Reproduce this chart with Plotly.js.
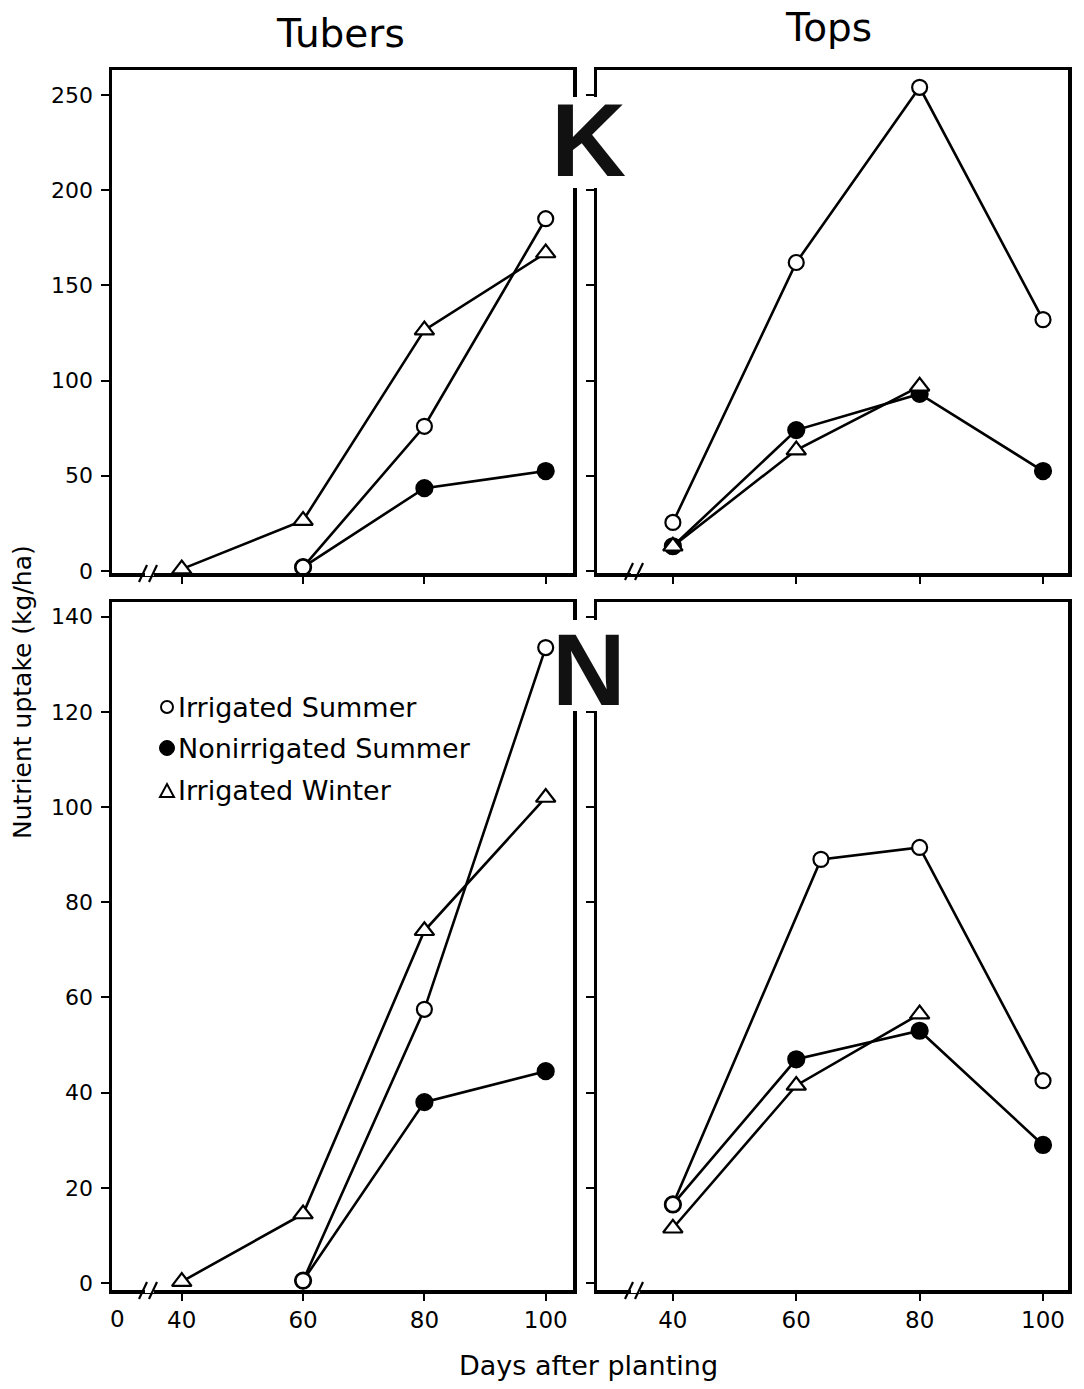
<!DOCTYPE html>
<html>
<head>
<meta charset="utf-8">
<script src="https://cdn.plot.ly/plotly-3.0.1.min.js"></script>
<style>html,body{margin:0;padding:0;background:#fff;}#chart{width:1084px;height:1389px;}</style>
</head>
<body>
<div id="chart"></div>
<script>
// ---------- DATA ----------
const seriesNames = ["Irrigated Summer", "Nonirrigated Summer", "Irrigated Winter"];
const panelTitles = ["Tubers", "Tops"];
const nutrients = ["K", "N"];

// K uptake, tubers (kg/ha)
const kTubIrrSumX = [60, 80, 100];
const kTubIrrSumY = [2, 76, 185];
const kTubNonSumX = [60, 80, 100];
const kTubNonSumY = [2, 43.5, 52.5];
const kTubIrrWinX = [40, 60, 80, 100];
const kTubIrrWinY = [1, 26.5, 126.5, 167];

// K uptake, tops
const kTopIrrSumX = [40, 60, 80, 100];
const kTopIrrSumY = [25.5, 162, 254, 132];
const kTopNonSumX = [40, 60, 80, 100];
const kTopNonSumY = [13, 74, 93, 52.5];
const kTopIrrWinX = [40, 60, 80];
const kTopIrrWinY = [13, 63.5, 97];

// N uptake, tubers
const nTubIrrSumX = [60, 80, 100];
const nTubIrrSumY = [0.5, 57.5, 133.5];
const nTubNonSumX = [60, 80, 100];
const nTubNonSumY = [0.5, 38, 44.5];
const nTubIrrWinX = [40, 60, 80, 100];
const nTubIrrWinY = [0.3, 14.5, 74, 102];

// N uptake, tops
const nTopIrrSumX = [40, 64, 80, 100];
const nTopIrrSumY = [16.5, 89, 91.5, 42.5];
const nTopNonSumX = [40, 60, 80, 100];
const nTopNonSumY = [16.5, 47, 53, 29];
const nTopIrrWinX = [40, 60, 80];
const nTopIrrWinY = [11.5, 41.5, 56.5];

// tick labels
const xTickVals = [40, 60, 80, 100];
const xTickText = ["40", "60", "80", "100"];
const kTickVals = [0, 50, 100, 150, 200, 250];
const kTickText = ["0", "50", "100", "150", "200", "250"];
const nTickVals = [0, 20, 40, 60, 80, 100, 120, 140];
const nTickText = ["0", "20", "40", "60", "80", "100", "120", "140"];

// ---------- LAYOUT HELPERS ----------
const W = 1084, H = 1389;
const px = v => v / W;
const py = v => 1 - v / H;
const FONT = "DejaVu Sans";

const styles = [
  {symbol: "circle", fill: "white", size: 15},       // irrigated summer
  {symbol: "circle", fill: "black", size: 16},       // nonirrigated summer
  {symbol: "triangle-up", fill: "white", size: 17}   // irrigated winter
];

function trace(x, y, s, xa, ya) {
  const st = styles[s];
  return {
    x: x, y: y, xaxis: xa, yaxis: ya, type: "scatter", mode: "lines+markers",
    name: seriesNames[s], showlegend: false, cliponaxis: false,
    line: {color: "black", width: 2.6},
    marker: {symbol: st.symbol, size: st.size, color: st.fill, line: {color: "black", width: 2.2}}
  };
}

// draw order: nonirrigated, winter, irrigated summer (circles on top)
const data = [
  trace(kTubNonSumX, kTubNonSumY, 1, "x", "y"),
  trace(kTubIrrWinX, kTubIrrWinY, 2, "x", "y"),
  trace(kTubIrrSumX, kTubIrrSumY, 0, "x", "y"),
  trace(kTopNonSumX, kTopNonSumY, 1, "x2", "y2"),
  trace(kTopIrrWinX, kTopIrrWinY, 2, "x2", "y2"),
  trace(kTopIrrSumX, kTopIrrSumY, 0, "x2", "y2"),
  trace(nTubNonSumX, nTubNonSumY, 1, "x3", "y3"),
  trace(nTubIrrWinX, nTubIrrWinY, 2, "x3", "y3"),
  trace(nTubIrrSumX, nTubIrrSumY, 0, "x3", "y3"),
  trace(nTopNonSumX, nTopNonSumY, 1, "x4", "y4"),
  trace(nTopIrrWinX, nTopIrrWinY, 2, "x4", "y4"),
  trace(nTopIrrSumX, nTopIrrSumY, 0, "x4", "y4")
];

const LEFT = [112, 573], RIGHT = [597, 1068];
const KPIX = [70, 573], NPIX = [602, 1290];

function xax(pix, range, anchor, labels) {
  return {
    domain: [px(pix[0]), px(pix[1])], range: range, anchor: anchor,
    showline: true, linecolor: "black", linewidth: 3.5, mirror: true,
    ticks: "outside", ticklen: 7, tickwidth: 2, tickcolor: "black",
    tickvals: xTickVals, ticktext: xTickText, showticklabels: labels,
    ticklabelstandoff: 0,
    tickfont: {family: FONT, size: 23, color: "black"},
    showgrid: false, zeroline: false, fixedrange: true
  };
}
function yax(pix, range, anchor, vals, text, labels) {
  return {
    domain: [py(pix[1]), py(pix[0])], range: range, anchor: anchor,
    showline: true, linecolor: "black", linewidth: 3.5, mirror: true,
    ticks: "outside", ticklen: 8, tickwidth: 2, tickcolor: "black",
    tickvals: vals, ticktext: text, showticklabels: labels,
    ticklabelstandoff: 3,
    tickfont: {family: FONT, size: 22, color: "black"},
    showgrid: false, zeroline: false, fixedrange: true
  };
}

const xLeftRange = [28.5, 104.5], xRightRange = [27.7, 104.05];
const kRange = [-1.05, 263.1], nRange = [-1.47, 143.07];

const shapes = [];
function whiteRect(x0, y0, x1, y1) {
  shapes.push({type: "rect", xref: "paper", yref: "paper", layer: "above",
    x0: px(x0), x1: px(x1), y0: py(y1), y1: py(y0),
    fillcolor: "white", line: {width: 0}});
}
function seg(x0, y0, x1, y1, w) {
  shapes.push({type: "line", xref: "paper", yref: "paper", layer: "above",
    x0: px(x0), x1: px(x1), y0: py(y0), y1: py(y1),
    line: {color: "black", width: w || 2}});
}
// gaps in the frames where K and N sit
whiteRect(560, 97, 612, 188);
whiteRect(560, 620, 612, 711);
// axis breaks "//"
function brk(cx, y) {
  whiteRect(cx - 5, y - 3, cx + 4, y + 3);
  seg(cx - 11, y + 9, cx - 3, y - 8, 2.2);
  seg(cx - 1, y + 9, cx + 7, y - 8, 2.2);
}
brk(150, 573); brk(636, 571); brk(150, 1290); brk(636, 1290);

// legend key symbols
const legendX = 167, legendY = [707, 748, 791];
shapes.push({type: "circle", xref: "paper", yref: "paper", layer: "above",
  x0: px(legendX - 6), x1: px(legendX + 6), y0: py(legendY[0] + 6), y1: py(legendY[0] - 6),
  fillcolor: "white", line: {color: "black", width: 2}});
shapes.push({type: "circle", xref: "paper", yref: "paper", layer: "above",
  x0: px(legendX - 7.5), x1: px(legendX + 7.5), y0: py(legendY[1] + 7.5), y1: py(legendY[1] - 7.5),
  fillcolor: "black", line: {color: "black", width: 1}});
shapes.push({type: "path", xref: "paper", yref: "paper", layer: "above",
  path: "M " + px(legendX - 7) + " " + py(legendY[2] + 6) + " L " + px(legendX + 7) + " " + py(legendY[2] + 6) +
        " L " + px(legendX) + " " + py(legendY[2] - 7) + " Z",
  fillcolor: "white", line: {color: "black", width: 2}});

const annotations = [
  {text: panelTitles[0], x: px(340), y: py(33), font: {family: FONT, size: 39, color: "black"}},
  {text: panelTitles[1], x: px(828), y: py(28), font: {family: FONT, size: 39, color: "black"}},
  {text: "<b>" + nutrients[0] + "</b>", x: px(588), y: py(140), font: {family: "Liberation Sans", size: 104, color: "#111"}},
  {text: "<b>" + nutrients[1] + "</b>", x: px(589), y: py(670), font: {family: "Liberation Sans", size: 102, color: "#111"}},
  {text: "Nutrient uptake (kg/ha)", x: px(22), y: py(692), textangle: -90, font: {family: FONT, size: 25, color: "black"}},
  {text: "Days after planting", x: px(588), y: py(1365), font: {family: FONT, size: 27, color: "black"}},
  {text: "0", x: px(117), y: py(1319), font: {family: FONT, size: 23, color: "black"}},
  {text: seriesNames[0], x: px(176), y: py(707), xanchor: "left", font: {family: FONT, size: 27, color: "black"}},
  {text: seriesNames[1], x: px(176), y: py(748), xanchor: "left", font: {family: FONT, size: 27, color: "black"}},
  {text: seriesNames[2], x: px(176), y: py(791), xanchor: "left", font: {family: FONT, size: 27, color: "black"}}
].map(a => Object.assign({xref: "paper", yref: "paper", showarrow: false, xanchor: "center", yanchor: "middle"}, a));

const layout = {
  width: W, height: H,
  margin: {l: 0, r: 0, t: 0, b: 0, pad: 0},
  paper_bgcolor: "white", plot_bgcolor: "white",
  font: {family: FONT, color: "black"},
  showlegend: false,
  xaxis: xax(LEFT, xLeftRange, "y", false),
  yaxis: yax(KPIX, kRange, "x", kTickVals, kTickText, true),
  xaxis2: xax(RIGHT, xRightRange, "y2", false),
  yaxis2: yax(KPIX, kRange, "x2", kTickVals, kTickText, false),
  xaxis3: xax(LEFT, xLeftRange, "y3", true),
  yaxis3: yax(NPIX, nRange, "x3", nTickVals, nTickText, true),
  xaxis4: xax(RIGHT, xRightRange, "y4", true),
  yaxis4: yax(NPIX, nRange, "x4", nTickVals, nTickText, false),
  shapes: shapes,
  annotations: annotations
};

Plotly.newPlot("chart", data, layout, {displayModeBar: false, staticPlot: true});
</script>
</body>
</html>
